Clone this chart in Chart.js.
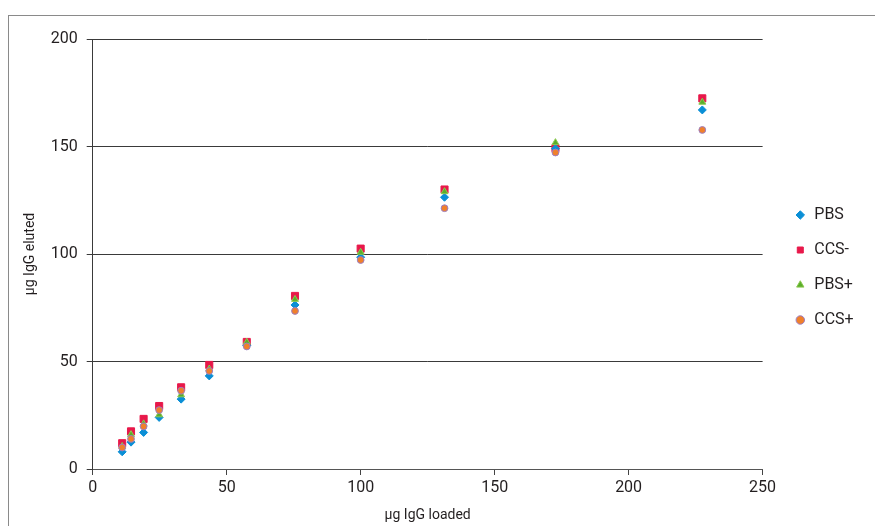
<!DOCTYPE html>
<html>
<head>
<meta charset="utf-8">
<script src="https://cdn.jsdelivr.net/npm/chart.js@4.4.1/dist/chart.umd.min.js"></script>
<style>
  html, body { margin: 0; padding: 0; background: #fff; overflow: hidden; }
  #wrap { position: relative; width: 875px; height: 526px; }
  #frame { position: absolute; left: 8px; top: 15px; width: 900px; height: 600px;
           border-left: 1px solid #8a8a8a; border-top: 1px solid #8a8a8a; }
  #chart { position: absolute; left: 0; top: 0; }
</style>
</head>
<body>
<div id="wrap">
  <div id="frame"></div>
  <canvas id="chart" width="875" height="526"></canvas>
</div>
<script>
// µg IgG loaded (x) and µg IgG eluted (y) per buffer
const loaded = [11, 14.3, 19, 24.8, 33, 43.5, 57.5, 75.5, 100, 131.3, 172.7, 227.5];
const pbs      = [8, 12.5, 17, 24, 32.5, 43.3, 57.5, 76.3, 98.5, 126.4, 149, 167];
const ccsMinus = [12, 17.5, 23.3, 29.3, 38, 48.4, 59.1, 80.5, 102.5, 130, 149.2, 172.4];
const pbsPlus  = [10.5, 16, 21, 25.2, 34.5, 46.5, 59, 78.9, 100.8, 129, 151.8, 170.6];
const ccsPlus  = [10, 14, 19.8, 27.4, 36.4, 45.6, 57, 73.5, 97.2, 121.3, 147.2, 157.7];
const seriesNames = ['PBS', 'CCS-', 'PBS+', 'CCS+'];
const xTicks = [0, 50, 100, 150, 200, 250];
const yTicks = [0, 50, 100, 150, 200];

const FONT = 'Roboto, "Liberation Sans", sans-serif';
const TEXT = '#231f20';

const toPoints = (ys) => ys.map((y, i) => ({ x: loaded[i], y: y }));

new Chart(document.getElementById('chart'), {
    type: 'scatter',
    data: {
        datasets: [
            { label: seriesNames[0], data: toPoints(pbs), pointStyle: 'rectRot', pointRadius: 4,
              backgroundColor: '#0a8fd6', borderColor: '#0a8fd6', borderWidth: 1, order: 2 },
            { label: seriesNames[1], data: toPoints(ccsMinus), pointStyle: 'rect', pointRadius: 5,
              backgroundColor: '#e8184a', borderColor: '#e8184a', borderWidth: 1, order: 3 },
            { label: seriesNames[2], data: toPoints(pbsPlus), pointStyle: 'triangle', pointRadius: 4,
              backgroundColor: '#5aae2a', borderColor: '#8cc850', borderWidth: 1, order: 1 },
            { label: seriesNames[3], data: toPoints(ccsPlus), pointStyle: 'circle', pointRadius: 3.4,
              backgroundColor: '#f0802b', borderColor: '#9c7fc4', borderWidth: 1, order: 0 }
        ]
    },
    options: {
        responsive: false,
        animation: false,
        layout: { padding: { left: 17.6, top: 39, right: 11.3, bottom: 2.6 } },
        plugins: {
            tooltip: { enabled: false },
            legend: {
                position: 'right',
                fullSize: false,
                title: { display: true, text: ' ', color: 'rgba(0,0,0,0)', font: { size: 10, lineHeight: 1.2 },
                         padding: { top: 15, bottom: 0 } },
                labels: {
                    usePointStyle: true,
                    boxWidth: 12,
                    boxHeight: 6,
                    padding: 19,
                    color: TEXT,
                    font: { family: FONT, size: 16 },
                    sort: (a, b) => a.datasetIndex - b.datasetIndex
                }
            }
        },
        scales: {
            x: {
                type: 'linear',
                min: 0, max: 250,
                afterBuildTicks: (s) => { s.ticks = xTicks.map(v => ({ value: v })); },
                afterFit: (s) => { s.height = 54.4; },
                grid: { drawOnChartArea: false, drawTicks: true, tickLength: 6, color: '#444' },
                border: { color: '#555', width: 1 },
                ticks: { color: TEXT, padding: 3, font: { family: FONT, size: 16 } },
                title: { display: true, text: 'µg IgG loaded', color: TEXT,
                         font: { family: FONT, size: 14 }, padding: { top: 4, bottom: 0 } }
            },
            y: {
                type: 'linear',
                min: 0, max: 200,
                afterBuildTicks: (s) => { s.ticks = yTicks.map(v => ({ value: v })); },
                afterFit: (s) => { s.width = 75.1; },
                grid: { color: '#3a3a3a', lineWidth: 1, tickLength: 6 },
                border: { color: '#3a3a3a', width: 1 },
                ticks: { color: TEXT, padding: 9, font: { family: FONT, size: 16 } },
                title: { display: true, text: 'µg IgG eluted', color: TEXT,
                         font: { family: FONT, size: 14 }, padding: { top: 4, bottom: 4 } }
            },
            gap: {
                type: 'linear',
                position: 'right',
                display: true,
                afterFit: (s) => { s.width = 12.7; },
                grid: { display: false },
                border: { display: false },
                ticks: { display: false }
            }
        }
    }
});
</script>
</body>
</html>
